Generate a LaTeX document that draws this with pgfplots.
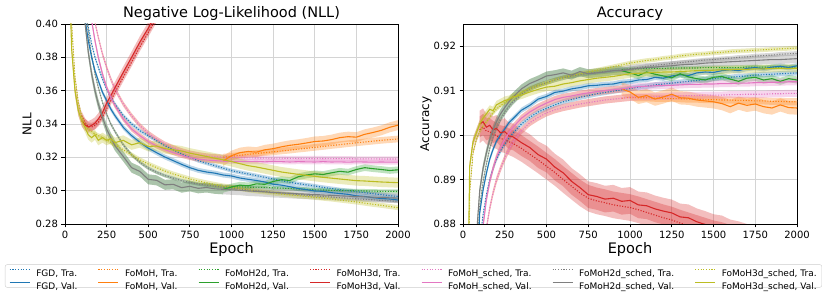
\documentclass[border=0pt]{standalone}
\usepackage{fontspec}
\setmainfont{DejaVu Sans}
\usepackage{pgfplots}
\usepackage{pgfplotstable}
\pgfplotsset{compat=1.18}
\usepgfplotslibrary{fillbetween}
\definecolor{tabblue}{HTML}{1F77B4}
\definecolor{taborange}{HTML}{FF7F0E}
\definecolor{tabgreen}{HTML}{2CA02C}
\definecolor{tabred}{HTML}{D62728}
\definecolor{tabpink}{HTML}{E377C2}
\definecolor{tabgray}{HTML}{7F7F7F}
\definecolor{tabolive}{HTML}{BCBD22}
\tikzset{trastyle/.style={line width=1.1pt, dash pattern=on 1.1pt off 1.6pt},
         valstyle/.style={line width=1.1pt, solid}}
\newcommand{\legtext}[1]{{\renewcommand{\arraystretch}{1.18}\begin{tabular}{@{}l@{}}#1, Tra.\\#1, Val.\end{tabular}}}
\newcommand{\legimg}[1]{%
  \path (0pt,0pt);
  \draw[color=#1, line width=1.1pt, dash pattern=on 1.1pt off 1.6pt] (0pt,6.5pt) -- (20pt,6.5pt);
  \draw[color=#1, line width=1.1pt, solid] (0pt,-6.5pt) -- (20pt,-6.5pt);}

% NLL: FGD, FoMoH_sched, FoMoH2d_sched, FoMoH3d_sched
\pgfplotstableread{
e fT fV pT pV kT kV yT yV
0 0.60 0.60 0.65 0.64 0.63 0.62 0.56 0.55
20 0.56 0.55 0.60 0.59 0.58 0.57 0.47 0.45
40 0.52 0.51 0.56 0.55 0.54 0.53 0.40 0.385
60 0.485 0.475 0.525 0.515 0.50 0.49 0.368 0.36
80 0.455 0.445 0.495 0.485 0.465 0.455 0.353 0.348
100 0.432 0.422 0.468 0.458 0.437 0.425 0.345 0.342
120 0.412 0.403 0.446 0.436 0.413 0.401 0.340 0.338
140 0.398 0.390 0.428 0.418 0.395 0.383 0.337 0.3335
160 0.388 0.380 0.413 0.402 0.381 0.370 0.3355 0.3318
180 0.380 0.372 0.401 0.390 0.370 0.360 0.334 0.3335
200 0.374 0.366 0.392 0.380 0.362 0.352 0.333 0.3302
225 0.367 0.359 0.382 0.370 0.353 0.344 0.3318 0.3318
250 0.361 0.354 0.374 0.362 0.346 0.337 0.3305 0.3302
275 0.356 0.349 0.367 0.356 0.340 0.3318 0.329 0.3312
300 0.352 0.345 0.361 0.351 0.3355 0.327 0.3275 0.3288
350 0.345 0.338 0.352 0.343 0.3275 0.3205 0.3245 0.3302
400 0.340 0.333 0.345 0.337 0.3215 0.3138 0.3215 0.3275
450 0.336 0.329 0.339 0.333 0.317 0.3115 0.3185 0.3288
500 0.333 0.3255 0.3345 0.3295 0.3135 0.3068 0.316 0.3265
550 0.330 0.3228 0.331 0.3268 0.311 0.3062 0.3138 0.3268
600 0.327 0.3202 0.328 0.3246 0.309 0.3035 0.3118 0.3252
650 0.3245 0.318 0.3258 0.3228 0.3075 0.3038 0.310 0.3245
700 0.322 0.3158 0.324 0.3212 0.306 0.3018 0.3085 0.3238
750 0.320 0.3138 0.3226 0.3199 0.305 0.3026 0.307 0.3225
800 0.318 0.3122 0.3216 0.319 0.304 0.3014 0.3058 0.3215
850 0.3165 0.3112 0.3209 0.3184 0.3033 0.3019 0.3047 0.3205
900 0.315 0.3105 0.3204 0.318 0.3027 0.3011 0.3037 0.3195
950 0.3135 0.3094 0.3201 0.3177 0.302 0.3008 0.3028 0.3185
1000 0.312 0.3088 0.3199 0.3175 0.3015 0.3005 0.302 0.3175
1050 0.311 0.3076 0.3198 0.3176 0.301 0.3003 0.3013 0.3162
1100 0.310 0.3068 0.3197 0.3174 0.3005 0.2998 0.3005 0.315
1150 0.309 0.3061 0.3196 0.3175 0.300 0.2996 0.2998 0.3142
1200 0.308 0.3052 0.3196 0.3173 0.2995 0.2993 0.2992 0.3132
1250 0.307 0.3039 0.3195 0.3175 0.299 0.2989 0.2986 0.3122
1300 0.306 0.3033 0.3195 0.3174 0.2985 0.2987 0.298 0.3112
1350 0.305 0.3024 0.3194 0.3172 0.2981 0.2984 0.2975 0.3105
1400 0.3042 0.3013 0.3194 0.3174 0.2977 0.2981 0.297 0.3098
1450 0.3035 0.3006 0.3193 0.3173 0.2973 0.2979 0.2965 0.3092
1500 0.3028 0.2998 0.3193 0.3172 0.2969 0.2977 0.296 0.3086
1550 0.302 0.2996 0.3193 0.3174 0.2965 0.2974 0.2955 0.308
1600 0.3013 0.2988 0.3192 0.3172 0.2962 0.2972 0.295 0.3075
1650 0.3006 0.2983 0.3192 0.3173 0.2958 0.2969 0.2944 0.307
1700 0.300 0.2978 0.3192 0.3171 0.2955 0.2967 0.2938 0.3065
1750 0.2994 0.2969 0.3191 0.3173 0.2951 0.2965 0.2932 0.306
1800 0.2988 0.2965 0.3191 0.3172 0.2948 0.2963 0.2925 0.3058
1850 0.2982 0.2958 0.3191 0.3171 0.2945 0.2961 0.2918 0.3055
1900 0.2976 0.2953 0.3190 0.3172 0.2942 0.2959 0.2912 0.3052
1950 0.297 0.2950 0.3190 0.3171 0.2939 0.2957 0.2905 0.305
2000 0.2965 0.2944 0.3190 0.3171 0.2936 0.2955 0.2898 0.3048
}\nllM
% NLL: FoMoH, FoMoH2d after they part from the _sched runs
\pgfplotstableread{
e oT oV gT gV
950 0.3201 0.3178 0.302 0.3008
1000 0.3206 0.321 0.3022 0.3022
1050 0.3212 0.3228 0.3023 0.3033
1100 0.3218 0.3235 0.3021 0.3029
1150 0.3223 0.3231 0.302 0.3041
1200 0.3228 0.3245 0.3019 0.3038
1250 0.3233 0.3252 0.3017 0.3055
1300 0.3238 0.3263 0.3015 0.3066
1350 0.3243 0.3272 0.3013 0.3061
1400 0.3249 0.3278 0.301 0.3083
1450 0.3254 0.3286 0.3008 0.3094
1500 0.326 0.3295 0.3005 0.3101
1550 0.3265 0.3298 0.3004 0.3097
1600 0.3271 0.3306 0.3002 0.3107
1650 0.3276 0.3318 0.3001 0.3116
1700 0.3282 0.3324 0.300 0.3111
1750 0.3287 0.3321 0.2999 0.3127
1800 0.3292 0.3338 0.2998 0.3138
1850 0.3297 0.3349 0.2997 0.3132
1900 0.3302 0.3362 0.2996 0.3127
1950 0.3306 0.338 0.2996 0.3121
2000 0.331 0.3393 0.2995 0.3125
}\nllS
% NLL: FoMoH3d
\pgfplotstableread{
e rT rV
100 0.345 0.342
120 0.341 0.3395
140 0.3385 0.3382
160 0.3382 0.3392
180 0.3392 0.3405
200 0.341 0.343
225 0.3445 0.3468
250 0.349 0.3525
275 0.354 0.357
300 0.3588 0.3618
350 0.368 0.371
400 0.377 0.380
450 0.3862 0.3892
500 0.3948 0.3975
550 0.4035 0.4065
600 0.412 0.415
650 0.421 0.424
700 0.43 0.433
}\nllR

% Accuracy
\pgfplotstableread{
e fT fV pT pV kT kV yT yV
0 0.65 0.66 0.60 0.62 0.67 0.68 0.74 0.75
20 0.70 0.72 0.65 0.67 0.73 0.74 0.83 0.84
40 0.75 0.78 0.70 0.72 0.79 0.80 0.887 0.893
60 0.80 0.83 0.75 0.77 0.835 0.845 0.896 0.8985
80 0.84 0.866 0.80 0.82 0.87 0.877 0.899 0.9005
100 0.876 0.8825 0.855 0.862 0.884 0.8875 0.9008 0.9025
120 0.882 0.8876 0.872 0.8795 0.8895 0.8925 0.902 0.9038
140 0.8865 0.8914 0.879 0.8855 0.8935 0.896 0.903 0.9048
160 0.89 0.8946 0.8835 0.8895 0.897 0.899 0.904 0.9058
180 0.8925 0.8968 0.887 0.8925 0.8995 0.9012 0.905 0.9055
200 0.8945 0.8986 0.8898 0.895 0.9015 0.903 0.9058 0.9068
225 0.8965 0.9001 0.8925 0.8972 0.9035 0.9048 0.9066 0.9073
250 0.898 0.9014 0.8948 0.899 0.905 0.9062 0.9074 0.9078
275 0.8993 0.9028 0.8968 0.9005 0.9063 0.9075 0.908 0.908
300 0.9005 0.9037 0.8985 0.9018 0.9074 0.9086 0.9086 0.9086
350 0.9025 0.9056 0.901 0.9038 0.9092 0.9104 0.9096 0.909
400 0.904 0.9067 0.9028 0.9052 0.9104 0.9116 0.9105 0.9097
450 0.9052 0.9081 0.904 0.9063 0.9112 0.9124 0.9112 0.9103
500 0.906 0.9087 0.905 0.9072 0.9118 0.9133 0.9118 0.9108
550 0.9068 0.9096 0.9057 0.908 0.9124 0.9136 0.9124 0.911
600 0.9075 0.9099 0.9062 0.9085 0.9129 0.914 0.9129 0.9115
650 0.908 0.9104 0.9066 0.9088 0.9133 0.9135 0.9134 0.9118
700 0.9085 0.9107 0.907 0.9092 0.9136 0.9143 0.9138 0.9122
750 0.9089 0.9111 0.9073 0.9095 0.9139 0.9138 0.9142 0.9125
800 0.9093 0.9112 0.9076 0.9098 0.9141 0.914 0.9146 0.9128
850 0.9096 0.9114 0.9079 0.91 0.9143 0.9142 0.915 0.913
900 0.9099 0.9115 0.9081 0.9102 0.9145 0.9145 0.9154 0.9132
950 0.9102 0.9119 0.9083 0.9104 0.9147 0.9145 0.9158 0.9135
1000 0.9105 0.912 0.9085 0.9107 0.9149 0.9148 0.9162 0.9138
1050 0.9108 0.9124 0.9086 0.9109 0.9152 0.915 0.9165 0.9139
1100 0.911 0.9125 0.9086 0.911 0.9155 0.9152 0.9168 0.914
1150 0.9113 0.913 0.9087 0.9111 0.9157 0.9153 0.917 0.9141
1200 0.9115 0.9128 0.9087 0.9112 0.9159 0.9155 0.9173 0.9142
1250 0.9117 0.9133 0.9088 0.9112 0.9161 0.9156 0.9175 0.9142
1300 0.9119 0.9136 0.9088 0.9113 0.9163 0.9158 0.9178 0.9143
1350 0.9121 0.9134 0.9089 0.9114 0.9165 0.9159 0.918 0.9144
1400 0.9123 0.914 0.9089 0.9114 0.9167 0.916 0.9182 0.9145
1450 0.9125 0.9142 0.909 0.9115 0.9169 0.9162 0.9183 0.9145
1500 0.9127 0.9141 0.909 0.9115 0.917 0.9163 0.9185 0.9146
1550 0.9129 0.9145 0.909 0.9116 0.9172 0.9164 0.9186 0.9147
1600 0.913 0.9147 0.9091 0.9116 0.9173 0.9165 0.9188 0.9147
1650 0.9132 0.9145 0.9091 0.9117 0.9175 0.9166 0.9189 0.9148
1700 0.9133 0.915 0.9092 0.9117 0.9176 0.9167 0.919 0.9148
1750 0.9135 0.9152 0.9092 0.9118 0.9178 0.9168 0.9191 0.9149
1800 0.9136 0.9149 0.9092 0.9118 0.9179 0.9169 0.9192 0.9149
1850 0.9137 0.9153 0.9093 0.9119 0.918 0.917 0.9193 0.915
1900 0.9138 0.9155 0.9093 0.9119 0.9182 0.917 0.9194 0.915
1950 0.9139 0.9152 0.9094 0.912 0.9183 0.9171 0.9195 0.915
2000 0.914 0.9156 0.9094 0.912 0.9184 0.9172 0.9196 0.915
}\accM
\pgfplotstableread{
e oT oV gT gV
950 0.9083 0.9104 0.9147 0.9145
1000 0.9085 0.9097 0.9149 0.914
1050 0.9084 0.9085 0.9149 0.9134
1100 0.9084 0.9089 0.915 0.9142
1150 0.9083 0.9081 0.915 0.9137
1200 0.9083 0.9086 0.915 0.9133
1250 0.9082 0.9092 0.9151 0.9129
1300 0.9082 0.9084 0.9151 0.9138
1350 0.9081 0.9083 0.9151 0.9131
1400 0.9081 0.9079 0.9151 0.9127
1450 0.908 0.9077 0.9152 0.9124
1500 0.908 0.9075 0.9152 0.913
1550 0.9079 0.9071 0.9152 0.9132
1600 0.9079 0.9064 0.9152 0.9126
1650 0.9078 0.9072 0.9152 0.9121
1700 0.9078 0.9067 0.9153 0.9128
1750 0.9077 0.907 0.9153 0.913
1800 0.9077 0.9064 0.9153 0.9124
1850 0.9076 0.9061 0.9153 0.9127
1900 0.9076 0.9068 0.9153 0.9121
1950 0.9075 0.9062 0.9153 0.9127
2000 0.9075 0.9061 0.9153 0.9124
}\accS
\pgfplotstableread{
e rT rV
100 0.9012 0.9025
120 0.9018 0.903
140 0.9009 0.9018
160 0.9008 0.9022
180 0.9002 0.9012
200 0.8999 0.9015
225 0.8992 0.9005
250 0.8990 0.9008
275 0.8985 0.8998
300 0.8981 0.8996
350 0.897 0.8983
400 0.8957 0.8972
450 0.8944 0.8956
500 0.893 0.8946
550 0.8916 0.8928
600 0.89 0.8915
650 0.8885 0.8896
700 0.887 0.8882
750 0.8858 0.8866
800 0.8852 0.8862
850 0.8848 0.8856
900 0.8843 0.8858
950 0.884 0.8851
1000 0.8837 0.8853
1050 0.8832 0.8843
1100 0.8826 0.8841
1150 0.882 0.8834
1200 0.8814 0.8829
1250 0.8809 0.8825
1300 0.8802 0.8816
1350 0.8796 0.8814
1400 0.879 0.8805
1450 0.8784 0.8799
1500 0.8778 0.8792
1550 0.8774 0.8789
1600 0.8768 0.878
1650 0.8763 0.8776
1700 0.8758 0.877
1750 0.8753 0.8765
1800 0.8748 0.876
1850 0.8743 0.8755
1900 0.8738 0.875
1950 0.8733 0.8745
2000 0.8728 0.874
}\accR

% band: #1 table, #2 column, #3 colour, #4 half-width, #5 unique name, #6 extra options
\newcommand{\band}[6]{%
  \addplot[draw=none, name path=#5u, forget plot, #6] table[x=e, y expr=\thisrow{#2}+#4] {#1};
  \addplot[draw=none, name path=#5l, forget plot, #6] table[x=e, y expr=\thisrow{#2}-#4] {#1};
  \addplot[fill=#3, fill opacity=0.3, draw=none, forget plot] fill between[of=#5u and #5l];
}
% curve: #1 table, #2 column, #3 colour, #4 style
\newcommand{\curve}[4]{\addplot[#3, #4] table[x=e, y=#2] {#1};}
% validation curve carrying the legend entry
\newcommand{\vcurve}[4]{\addplot[#3, valstyle, legend image code/.code={\legimg{#3}}] table[x=e, y=#2] {#1};\addlegendentry{\legtext{#4}}}

\pgfplotsset{common/.style={
  scale only axis, anchor=south west, height=200pt,
  xmin=0, xmax=2000, xtick={0,250,500,750,1000,1250,1500,1750,2000},
  tick align=outside, tick pos=left, major tick length=3.5pt,
  grid=major, grid style={line width=0.8pt, draw=black!17},
  axis line style={line width=0.8pt, black},
  tick style={line width=0.8pt, black},
  tick label style={font=\fontsize{10}{12}\selectfont},
  /pgf/number format/assume math mode=true,
  x tick label style={/pgf/number format/1000 sep={}},
  y tick label style={/pgf/number format/.cd, fixed, fixed zerofill, precision=2},
  scaled ticks=false,
  title style={font=\fontsize{14.5}{17}\selectfont, at={(0.5,1)}, anchor=base, yshift=0.7pt},
  xlabel=Epoch,
  xlabel style={font=\fontsize{14.5}{17}\selectfont, at={(axis description cs:0.5,0)}, anchor=base, yshift=-30pt},
  ylabel style={font=\fontsize{12}{14}\selectfont, anchor=center},
}}

\begin{document}
\begin{tikzpicture}
\begin{axis}[common, at={(65pt,75pt)}, width=333pt,
  ymin=0.28, ymax=0.40, ytick={0.28,0.30,0.32,0.34,0.36,0.38,0.40},
  title={Negative Log-Likelihood (NLL)}, ylabel={NLL},
  ylabel style={at={(axis description cs:-0.114,0.5)}},
  legend columns=7, legend cell align=left,
  legend style={at={(1.0465,-0.26)}, anchor=center, draw=black!20, rounded corners=2pt,
    font=\fontsize{9}{11}\selectfont, inner xsep=4pt, inner ysep=2pt,
    nodes={inner xsep=1pt, inner ysep=1pt},
    /tikz/every odd column/.append style={column sep=5pt},
    /tikz/every even column/.append style={column sep=19.5pt}},
]
% bands (FoMoH, FoMoH2d, FoMoH3d share the start of their _sched runs)
\band{\nllM}{fT}{tabblue}{0.0012}{a1}{}
\band{\nllM}{fV}{tabblue}{0.0015}{a2}{}
\band{\nllM}{pT}{taborange}{0.0015}{a3e}{restrict x to domain=0:950}
\band{\nllM}{pV}{taborange}{0.0015}{a4e}{restrict x to domain=0:950}
\band{\nllS}{oT}{taborange}{0.002}{a3}{}
\band{\nllS}{oV}{taborange}{0.003}{a4}{}
\band{\nllM}{kT}{tabgreen}{0.001}{a5e}{restrict x to domain=0:950}
\band{\nllM}{kV}{tabgreen}{0.003}{a6e}{restrict x to domain=0:950}
\band{\nllS}{gT}{tabgreen}{0.0012}{a5}{}
\band{\nllS}{gV}{tabgreen}{0.002}{a6}{}
\band{\nllM}{yT}{tabred}{0.0015}{a7e}{restrict x to domain=0:100}
\band{\nllM}{yV}{tabred}{0.003}{a8e}{restrict x to domain=0:100}
\band{\nllR}{rT}{tabred}{0.0025}{a7}{}
\band{\nllR}{rV}{tabred}{0.0035}{a8}{}
\band{\nllM}{pT}{tabpink}{0.0015}{a9}{}
\band{\nllM}{pV}{tabpink}{0.0015}{a10}{}
\band{\nllM}{kT}{tabgray}{0.001}{a11}{}
\band{\nllM}{kV}{tabgray}{0.003}{a12}{}
\band{\nllM}{yT}{tabolive}{0.0015}{a13}{}
\band{\nllM}{yV}{tabolive}{0.003}{a14}{}
% training curves
\curve{\nllM}{fT}{tabblue}{trastyle, forget plot}
\curve{\nllS}{oT}{taborange}{trastyle, forget plot}
\curve{\nllS}{gT}{tabgreen}{trastyle, forget plot}
\curve{\nllR}{rT}{tabred}{trastyle, forget plot}
\curve{\nllM}{pT}{tabpink}{trastyle, forget plot}
\curve{\nllM}{kT}{tabgray}{trastyle, forget plot}
\curve{\nllM}{yT}{tabolive}{trastyle, forget plot}
% validation curves (each legend entry shows the Tra. and Val. styles)
\vcurve{\nllM}{fV}{tabblue}{FGD}
\vcurve{\nllS}{oV}{taborange}{FoMoH}
\vcurve{\nllS}{gV}{tabgreen}{FoMoH2d}
\vcurve{\nllR}{rV}{tabred}{FoMoH3d}
\vcurve{\nllM}{pV}{tabpink}{FoMoH\_sched}
\vcurve{\nllM}{kV}{tabgray}{FoMoH2d\_sched}
\vcurve{\nllM}{yV}{tabolive}{FoMoH3d\_sched}
\end{axis}
\begin{axis}[common, at={(463pt,75pt)}, width=334pt,
  ymin=0.88, ymax=0.925, ytick={0.88,0.89,0.90,0.91,0.92},
  title={Accuracy}, ylabel={Accuracy},
  ylabel style={at={(axis description cs:-0.111,0.5)}},
]
\band{\accM}{fT}{tabblue}{0.0006}{b1}{}
\band{\accM}{fV}{tabblue}{0.0006}{b2}{}
\band{\accM}{pT}{taborange}{0.0008}{b3e}{restrict x to domain=0:950}
\band{\accM}{pV}{taborange}{0.0008}{b4e}{restrict x to domain=0:950}
\band{\accS}{oT}{taborange}{0.0008}{b3}{}
\band{\accS}{oV}{taborange}{0.0015}{b4}{}
\band{\accM}{kT}{tabgreen}{0.0005}{b5e}{restrict x to domain=0:950}
\band{\accM}{kV}{tabgreen}{0.001}{b6e}{restrict x to domain=0:950}
\band{\accS}{gT}{tabgreen}{0.0005}{b5}{}
\band{\accS}{gV}{tabgreen}{0.0008}{b6}{}
\band{\accM}{yT}{tabred}{0.0005}{b7e}{restrict x to domain=0:100}
\band{\accM}{yV}{tabred}{0.0009}{b8e}{restrict x to domain=0:100}
\band{\accR}{rT}{tabred}{0.003}{b7}{}
\band{\accR}{rV}{tabred}{0.003}{b8}{}
\band{\accM}{pT}{tabpink}{0.0008}{b9}{}
\band{\accM}{pV}{tabpink}{0.0008}{b10}{}
\band{\accM}{kT}{tabgray}{0.0005}{b11}{}
\band{\accM}{kV}{tabgray}{0.001}{b12}{}
\band{\accM}{yT}{tabolive}{0.0005}{b13}{}
\band{\accM}{yV}{tabolive}{0.0009}{b14}{}
\curve{\accM}{fT}{tabblue}{trastyle}
\curve{\accS}{oT}{taborange}{trastyle}
\curve{\accS}{gT}{tabgreen}{trastyle}
\curve{\accR}{rT}{tabred}{trastyle}
\curve{\accM}{pT}{tabpink}{trastyle}
\curve{\accM}{kT}{tabgray}{trastyle}
\curve{\accM}{yT}{tabolive}{trastyle}
\curve{\accM}{fV}{tabblue}{valstyle}
\curve{\accS}{oV}{taborange}{valstyle}
\curve{\accS}{gV}{tabgreen}{valstyle}
\curve{\accR}{rV}{tabred}{valstyle}
\curve{\accM}{pV}{tabpink}{valstyle}
\curve{\accM}{kV}{tabgray}{valstyle}
\curve{\accM}{yV}{tabolive}{valstyle}
\end{axis}
\pgfresetboundingbox
\path[use as bounding box] (0,0) rectangle (830pt,299pt);
\end{tikzpicture}
\end{document}
